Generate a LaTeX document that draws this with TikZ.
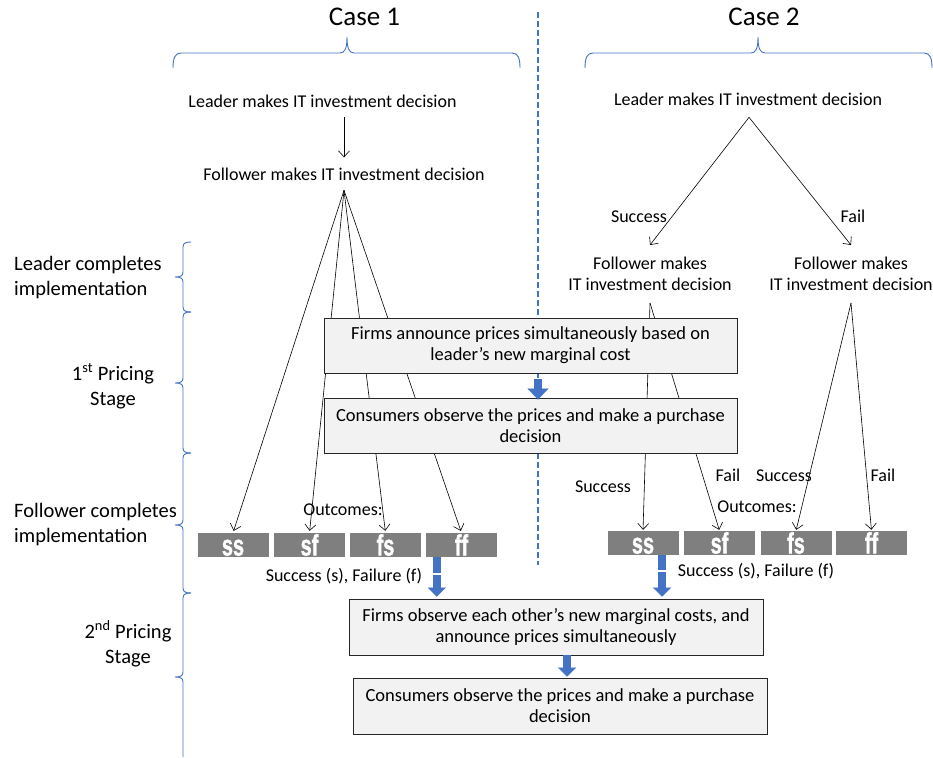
\documentclass[tikz,border=0pt]{standalone}
\usepackage{fontspec}
\setmainfont{Carlito}
\newfontfamily\outf[FakeBold=1.6]{Liberation Sans Bold}
\usetikzlibrary{arrows.meta}
\definecolor{braceblue}{HTML}{4472C4}
\definecolor{arrowblue}{HTML}{4472C4}
\definecolor{boxfill}{HTML}{F2F2F2}
\definecolor{boxedge}{HTML}{262626}
\definecolor{outgray}{HTML}{7F7F7F}
\begin{document}
\begin{tikzpicture}[x=1pt,y=-1pt,
  txt/.style={font=\fontsize{18}{24}\selectfont, inner sep=0pt, anchor=base},
  ml/.style={font=\fontsize{20.5}{25}\selectfont, inner sep=0pt, align=center},
  fol/.style={font=\fontsize{18}{21}\selectfont, inner xsep=0pt, inner ysep=12pt, align=center},
  casetxt/.style={font=\fontsize{27}{30}\selectfont, inner sep=0pt, anchor=base},
  brc/.style={draw=braceblue, line width=0.9pt},
  arr/.style={draw=black, line width=0.6pt, -{Straight Barb[length=6pt,width=11pt]}},
  stepbox/.style={draw=boxedge, fill=boxfill, line width=0.9pt, inner sep=0pt,
    font=\fontsize{18.5}{21}\selectfont, align=center},
  obox/.style={fill=outgray, inner sep=0pt, minimum width=71pt, minimum height=24pt,
    text height=21pt, text depth=0pt, text=white, font=\outf\fontsize{21}{21}\selectfont},
  blkarr/.style={draw=arrowblue, line width=8.5pt, -{Triangle[length=9pt,width=18pt,line width=0.1pt]}},
  cut/.style={draw=white, line width=1.2pt}
]
\useasboundingbox (0,0) rectangle (933,757);

% ---- case headings and top braces
\node[casetxt] (case1) at (364.5,26) {Case 1};
\node[casetxt] (case2) at (764,26) {Case 2};
\draw[brc] (173,68) .. controls (173,58) and (175,53) .. (181,53) -- (340,53)
  .. controls (345,53) and (347,48) .. (347,37) .. controls (347,48) and (349,53) .. (354,53)
  -- (512,53) .. controls (518,53) and (520,58) .. (520,68);
\draw[brc] (585,68) .. controls (585,58) and (587,53) .. (593,53) -- (751,53)
  .. controls (756,53) and (758,48) .. (758,37) .. controls (758,48) and (760,53) .. (765,53)
  -- (924,53) .. controls (930,53) and (932,58) .. (932,68);

% ---- left braces
\foreach \a/\m/\b in {242/277/312, 312/383/453, 453/525/593}{
  \draw[brc] (191,\a) .. controls (186,\a) and (183,\a+1) .. (183,\a+5) -- (183,\m-5)
    .. controls (183,\m-1) and (180,\m) .. (175,\m) .. controls (180,\m) and (183,\m+1) .. (183,\m+5)
    -- (183,\b-5) .. controls (183,\b-1) and (186,\b) .. (191,\b);
}
\draw[brc] (191,593) .. controls (186,593) and (183,594) .. (183,598) -- (183,672)
  .. controls (183,676) and (180,677) .. (175,677) .. controls (180,677) and (183,678) .. (183,682)
  -- (183,757);

% ---- left stage labels
\node[ml, anchor=west, align=left] (lab1) at (14,278) {Leader completes\\implementation};
\node[ml] (lab2) at (113,386) {1\textsuperscript{st} Pricing\\Stage};
\node[ml, anchor=west, align=left] (lab3) at (14,525) {Follower completes\\implementation};
\node[ml] (lab4) at (128,644) {2\textsuperscript{nd} Pricing\\Stage};

% ---- dashed separator
\draw[braceblue, line width=1.8pt, dash pattern=on 6pt off 3pt] (538,12) -- (538,565);

% ---- case 1 tree
\node[txt, inner ysep=9pt] (L1) at (322.5,108) {Leader makes IT investment decision};
\node[txt, inner ysep=10pt] (F1) at (344,180) {Follower makes IT investment decision};
\coordinate (L1a) at (L1.south -| 344,0);
\draw[arr] (L1a) -- (L1a |- F1.north);

\node[obox] (ss1) at (233,545) {\scalebox{0.95}[1.4]{ss}};
\node[obox] (sf1) at (309.5,545) {\scalebox{0.95}[1.4]{sf}};
\node[obox] (fs1) at (385.5,545) {\scalebox{0.95}[1.4]{fs}};
\node[obox] (ff1) at (461.5,545) {\scalebox{0.95}[1.4]{ff}};
\foreach \t in {ss1,sf1,fs1,ff1}{
  \draw[arr, shorten >=2pt] (F1.south) -- (\t.north);
}

% ---- case 2 tree
\node[txt, inner ysep=11pt] (L2) at (748,106) {Leader makes IT investment decision};
\node[fol] (F2a) at (650,274) {Follower makes\\IT investment decision};
\node[fol] (F2b) at (851,274) {Follower makes\\IT investment decision};
\coordinate (L2a) at (L2.south -| 749,0);
\draw[arr] (L2a) -- (F2a.north);
\draw[arr] (L2a) -- (F2b.north);
\node[txt] (s2a) at (639,222) {Success};
\node[txt] (f2a) at (853,222) {Fail};

\node[obox] (ss2) at (643,543) {\scalebox{0.95}[1.4]{ss}};
\node[obox] (sf2) at (719.5,543) {\scalebox{0.95}[1.4]{sf}};
\node[obox] (fs2) at (796,543) {\scalebox{0.95}[1.4]{fs}};
\node[obox] (ff2) at (871.5,543) {\scalebox{0.95}[1.4]{ff}};
\draw[arr, shorten >=1pt] (F2a.south) -- (ss2.north);
\draw[arr, shorten >=1pt] (F2a.south) -- (sf2.north);
\draw[arr, shorten >=1pt] (F2b.south) -- (fs2.north);
\draw[arr, shorten >=1pt] (F2b.south) -- (ff2.north);

% ---- process boxes
\node[stepbox, minimum width=413pt, minimum height=55pt] (B1) at (530.5,345.5)
  {Firms announce prices simultaneously based on\\leader’s new marginal cost};
\node[stepbox, minimum width=413pt, minimum height=55pt] (B2) at (530.5,425.5)
  {Consumers observe the prices and make a purchase\\decision};
\node[stepbox, minimum width=414pt, minimum height=56pt] (B3) at (556,627)
  {Firms observe each other’s new marginal costs, and\\announce prices simultaneously};
\node[stepbox, minimum width=414pt, minimum height=56pt] (B4) at (560,706)
  {Consumers observe the prices and make a purchase\\decision};

% ---- block arrows
\draw[blkarr, -{Triangle[length=11pt,width=21pt,line width=0.1pt]}]
  ([xshift=7.5pt,yshift=-6pt]B1.south) -- ([xshift=7.5pt,yshift=-2pt]B1.south |- B2.north);
\coordinate (o1) at ([xshift=11pt]ff1.south west);
\coordinate (o2) at ([xshift=19pt]ss2.south);
\draw[blkarr] (o1) -- ([yshift=2pt]o1 |- B3.north);
\draw[blkarr] (o2) -- ([yshift=2pt]o2 |- B3.north);
\draw[cut] ([xshift=-6pt]o1 |- 0,574) -- ([xshift=6pt]o1 |- 0,574);
\draw[cut] ([xshift=-6pt]o2 |- 0,571) -- ([xshift=6pt]o2 |- 0,571);
\coordinate (o3) at ([xshift=11pt]B3.south);
\draw[blkarr] (o3) -- ([yshift=1pt]o3 |- B4.north);

% ---- outcome labels
\node[txt] (oc1) at (343,515) {Outcomes:};
\node[txt] (oc2) at (757,512) {Outcomes:};
\node[txt] (sf1lab) at (344,581) {Success (s), Failure (f)};
\node[txt] (sf2lab) at (756,576) {Success (s), Failure (f)};
\node[txt] (s2b) at (603,492) {Success};
\node[txt] (f2b) at (728,481) {Fail};
\node[txt] (s2c) at (784,481) {Success};
\node[txt] (f2c) at (883,481) {Fail};
\end{tikzpicture}
\end{document}
